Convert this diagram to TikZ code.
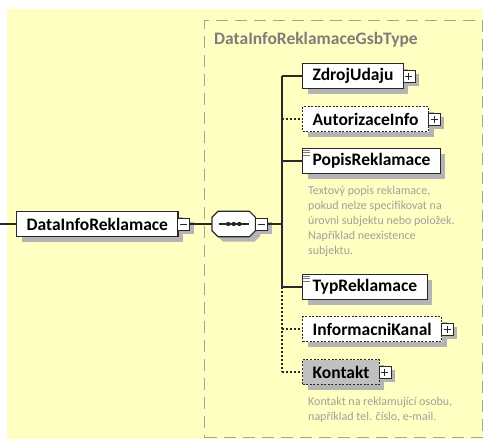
\documentclass[tikz,border=0pt]{standalone}
\usepackage{fontspec}
\setmainfont{Carlito}
\usepackage{tikz}
\usetikzlibrary{positioning, calc, shadows}
\usepackage{xcolor}

\definecolor{bgyellow}{RGB}{255,255,194}
\definecolor{linedark}{RGB}{40,40,40}
\definecolor{shadowgray}{RGB}{180,180,180}
\definecolor{typegray}{RGB}{125,125,125}
\definecolor{descgray}{RGB}{160,160,155}
\definecolor{framegray}{RGB}{165,165,160}
\definecolor{refgray}{RGB}{192,192,192}

\begin{document}
\begin{tikzpicture}[x=1pt, y=-1pt,
    element/.style={rectangle, draw=linedark, fill=white, line width=1.2pt, anchor=west,
        minimum height=25pt, inner xsep=10pt, inner ysep=0pt,
        font=\bfseries\fontsize{17.5}{20}\selectfont,
        drop shadow={shadow xshift=5pt, shadow yshift=-5pt, fill=shadowgray, opacity=1}},
    optional/.style={element, dash pattern=on 2pt off 1.6pt},
    button/.style={rectangle, draw=linedark, fill=white, line width=0.9pt,
        minimum size=12pt, inner sep=0pt,
        drop shadow={shadow xshift=4pt, shadow yshift=-4pt, fill=shadowgray, opacity=1}},
    minusbtn/.style={button, path picture={
        \draw[line width=1pt] ([xshift=2.5pt]path picture bounding box.west) -- ([xshift=-2.5pt]path picture bounding box.east);}},
    plusbtn/.style={button, path picture={
        \draw[line width=1pt] ([xshift=2.5pt]path picture bounding box.west) -- ([xshift=-2.5pt]path picture bounding box.east);
        \draw[line width=1pt] ([yshift=-2.5pt]path picture bounding box.north) -- ([yshift=2.5pt]path picture bounding box.south);}},
    sequence/.style={rectangle, minimum width=43pt, minimum height=25pt, inner sep=0pt},
    seqline/.style={draw=linedark, fill=white, line width=1.2pt, line join=miter},
    conn/.style={draw=linedark, line width=1.2pt},
    optconn/.style={conn, dash pattern=on 2pt off 2pt},
    docmark/.style={draw=typegray, line width=0.7pt},
    desc/.style={anchor=north west, align=left, inner sep=0pt, text=descgray,
        font=\fontsize{12}{15}\selectfont},
    typebox/.style={draw=framegray, line width=1.4pt, dash pattern=on 12pt off 7pt}]

    \useasboundingbox (0,0) rectangle (483,439);
    \fill[bgyellow] (7,9) rectangle (483,439);

    % Complex type frame
    \node[typebox, anchor=north west, minimum width=278pt, minimum height=417pt] (gsbtype) at (204,20) {};
    \node[anchor=west, inner sep=0pt, text=typegray, font=\bfseries\fontsize{17.5}{20}\selectfont] (gsblabel) at (214,40) {DataInfoReklamaceGsbType};

    % Root element
    \node[element] (root) at (16,224) {DataInfoReklamace};
    \node[minusbtn, right=-1.5pt of root] (rootbtn) {};
    \coordinate (entry) at (0,224);
    \draw[conn] (entry) -- (root);

    % Sequence compositor (octagon with shadow)
    \node[sequence, right=22pt of rootbtn] (seq) {};
    \fill[shadowgray] ($(seq.north west)+(11,5)$) -- ($(seq.north east)+(-1,5)$) -- ($(seq.north east)+(5,11)$)
        -- ($(seq.south east)+(5,-1)$) -- ($(seq.south east)+(-1,5)$) -- ($(seq.south west)+(11,5)$)
        -- ($(seq.south west)+(5,-1)$) -- ($(seq.north west)+(5,11)$) -- cycle;
    \path[seqline] ($(seq.north west)+(6,0)$) -- ($(seq.north east)+(-6,0)$) -- ($(seq.north east)+(0,6)$)
        -- ($(seq.south east)+(0,-6)$) -- ($(seq.south east)+(-6,0)$) -- ($(seq.south west)+(6,0)$)
        -- ($(seq.south west)+(0,-6)$) -- ($(seq.north west)+(0,6)$) -- cycle;
    \draw[line width=1.2pt, draw=linedark] ($(seq.center)+(-15,0)$) -- ($(seq.center)+(15,0)$);
    \fill[linedark] ($(seq.center)+(-5.5,0)$) circle (2.2pt);
    \fill[linedark] (seq.center) circle (2.2pt);
    \fill[linedark] ($(seq.center)+(5.5,0)$) circle (2.2pt);
    \node[minusbtn, right=0pt of seq] (seqbtn) {};
    \draw[conn] (rootbtn) -- (seq);
    \coordinate (bus) at (282,224);
    \draw[conn] (seqbtn) -- (bus);

    % Child elements
    \node[element] (zdroj) at (302,76) {ZdrojUdaju};
    \node[plusbtn, right=-1.5pt of zdroj] (zdrojbtn) {};

    \node[optional] (autor) at (302,119) {AutorizaceInfo};
    \node[plusbtn, right=-1.5pt of autor] (autorbtn) {};

    \node[element] (popis) at (302,161) {PopisReklamace};
    \draw[docmark] ($(popis.north west)+(1,2)$) -- +(7,0);
    \draw[docmark] ($(popis.north west)+(1,4.5)$) -- +(7,0);
    \draw[docmark] ($(popis.north west)+(1,7)$) -- +(7,0);
    \node[desc, below right=12pt and 6pt of popis.south west] (popisdoc) {Textový popis reklamace,\\pokud nelze specifikovat na\\úrovni subjektu nebo položek.\\Například neexistence\\subjektu.};

    \node[element] (typ) at (302,287) {TypReklamace};
    \draw[docmark] ($(typ.north west)+(1,2)$) -- +(7,0);
    \draw[docmark] ($(typ.north west)+(1,4.5)$) -- +(7,0);
    \draw[docmark] ($(typ.north west)+(1,7)$) -- +(7,0);

    \node[optional] (kanal) at (302,329) {InformacniKanal};
    \node[plusbtn, right=-1.5pt of kanal] (kanalbtn) {};

    \node[optional, fill=refgray] (kontakt) at (302,372) {Kontakt};
    \node[plusbtn, right=-1.5pt of kontakt] (kontaktbtn) {};
    \node[desc, below right=12pt and 6pt of kontakt.south west] (kontaktdoc) {Kontakt na reklamující osobu,\\například tel. číslo, e-mail.};

    % Connectors from the sequence bus
    \draw[conn] (bus |- zdroj.west) -- (bus |- typ.west);
    \draw[optconn] (bus |- typ.west) -- (bus |- kontakt.west);
    \draw[conn] (bus |- zdroj.west) -- (zdroj.west);
    \draw[optconn] (bus |- autor.west) -- (autor.west);
    \draw[conn] (bus |- popis.west) -- (popis.west);
    \draw[conn] (bus |- typ.west) -- (typ.west);
    \draw[optconn] (bus |- kanal.west) -- (kanal.west);
    \draw[optconn] (bus |- kontakt.west) -- (kontakt.west);
\end{tikzpicture}
\end{document}
